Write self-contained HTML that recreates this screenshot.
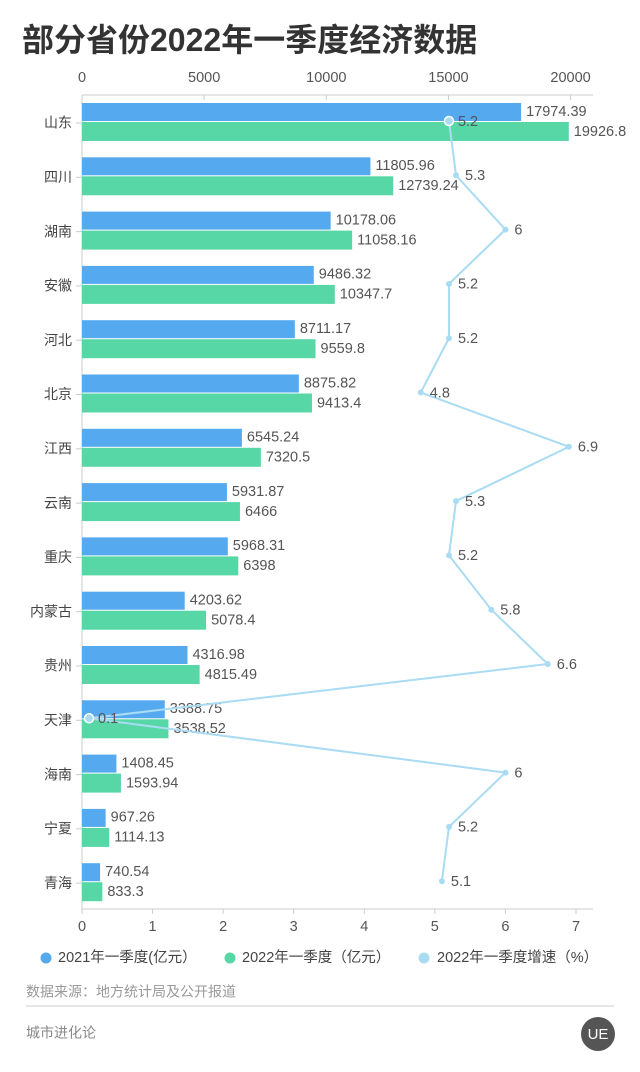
<!DOCTYPE html>
<html><head><meta charset="utf-8"><style>
body{margin:0;background:#fff;width:640px;height:1067px;overflow:hidden;font-family:"Liberation Sans","Noto Sans CJK SC",sans-serif;}
svg text{font-family:"Liberation Sans","Noto Sans CJK SC",sans-serif;}
</style></head><body>
<svg id="s" width="640" height="1067" xmlns="http://www.w3.org/2000/svg">
<text x="22" y="51" font-size="32" font-weight="bold" fill="#333">部分省份2022年一季度经济数据</text>
</svg>
<script>
var d=[["山东",17974.39,19926.8,5.2],["四川",11805.96,12739.24,5.3],["湖南",10178.06,11058.16,6],["安徽",9486.32,10347.7,5.2],["河北",8711.17,9559.8,5.2],["北京",8875.82,9413.4,4.8],["江西",6545.24,7320.5,6.9],["云南",5931.87,6466,5.3],["重庆",5968.31,6398,5.2],["内蒙古",4203.62,5078.4,5.8],["贵州",4316.98,4815.49,6.6],["天津",3388.75,3538.52,0.1],["海南",1408.45,1593.94,6],["宁夏",967.26,1114.13,5.2],["青海",740.54,833.3,5.1]];
var x0=82,sx=0.02443,sg=70.57,h='';
function t(x,y,s,a,fs,c){return '<text x="'+x+'" y="'+y+'" font-size="'+(fs||14.5)+'" fill="'+(c||'#555')+'" text-anchor="'+(a||'start')+'" dominant-baseline="middle">'+s+'</text>';}
h+='<line x1="82" y1="95" x2="593" y2="95" stroke="#ccc"/>';
for(var i=0;i<=4;i++){var x=x0+i*5000*sx;h+='<line x1="'+x+'" y1="95" x2="'+x+'" y2="100" stroke="#ccc"/>'+t(x,78,i*5000,'middle');}
h+='<line x1="82" y1="909" x2="593" y2="909" stroke="#ccc"/><line x1="82" y1="95" x2="82" y2="909" stroke="#ccc"/>';
for(var i=0;i<=7;i++){var x=x0+i*sg;h+='<line x1="'+x+'" y1="909" x2="'+x+'" y2="914" stroke="#ccc"/>'+t(x,927,i,'middle');}
var pts=[],lab='';
d.forEach(function(r,k){var c=123+k*54.3;
h+='<line x1="76" y1="'+c+'" x2="82" y2="'+c+'" stroke="#ccc"/>'+t(72,c+1,r[0],'end',14,'#444');
var w1=r[1]*sx,w2=r[2]*sx;
h+='<rect x="82" y="'+(c-20)+'" width="'+w1+'" height="18" fill="#55a9ef"/>';
h+='<rect x="82" y="'+(c-1)+'" width="'+w2+'" height="19" fill="#58d7a6"/>';
h+=t(82+w1+5,c-11,r[1])+t(82+w2+5,c+9,r[2]);
var px=x0+r[3]*sg,py=c-2;pts.push(px+','+py);
var big=(k==0||k==11);
lab+='<circle cx="'+px+'" cy="'+py+'" r="'+(big?4.5:3)+'" fill="#a9dcf3" stroke="'+(big?'#fff':'none')+'" stroke-width="1.5"/>'+t(px+9,py+1,r[3]);
});
h+='<polyline points="'+pts.join(' ')+'" fill="none" stroke="#a9dcf3" stroke-width="2"/>'+lab;
h+='<circle cx="46" cy="958" r="5.5" fill="#55a9ef"/>'+t(58,958,'2021年一季度(亿元）','start',14.5,'#444');
h+='<circle cx="230" cy="958" r="5.5" fill="#58d7a6"/>'+t(242,958,'2022年一季度（亿元）','start',14.5,'#444');
h+='<circle cx="424" cy="958" r="5.5" fill="#a9dcf3"/>'+t(437,958,'2022年一季度增速（%）','start',14.5,'#444');
h+=t(26,993,'数据来源：地方统计局及公开报道','start',14,'#999');
h+='<line x1="26" y1="1006" x2="614" y2="1006" stroke="#ccc"/>';
h+=t(26,1034,'城市进化论','start',14,'#888');
h+='<circle cx="598" cy="1034" r="17" fill="#555"/>'+t(598,1035,'UE','middle',15,'#fff');
document.getElementById('s').insertAdjacentHTML('beforeend',h);
</script>
</body></html>
